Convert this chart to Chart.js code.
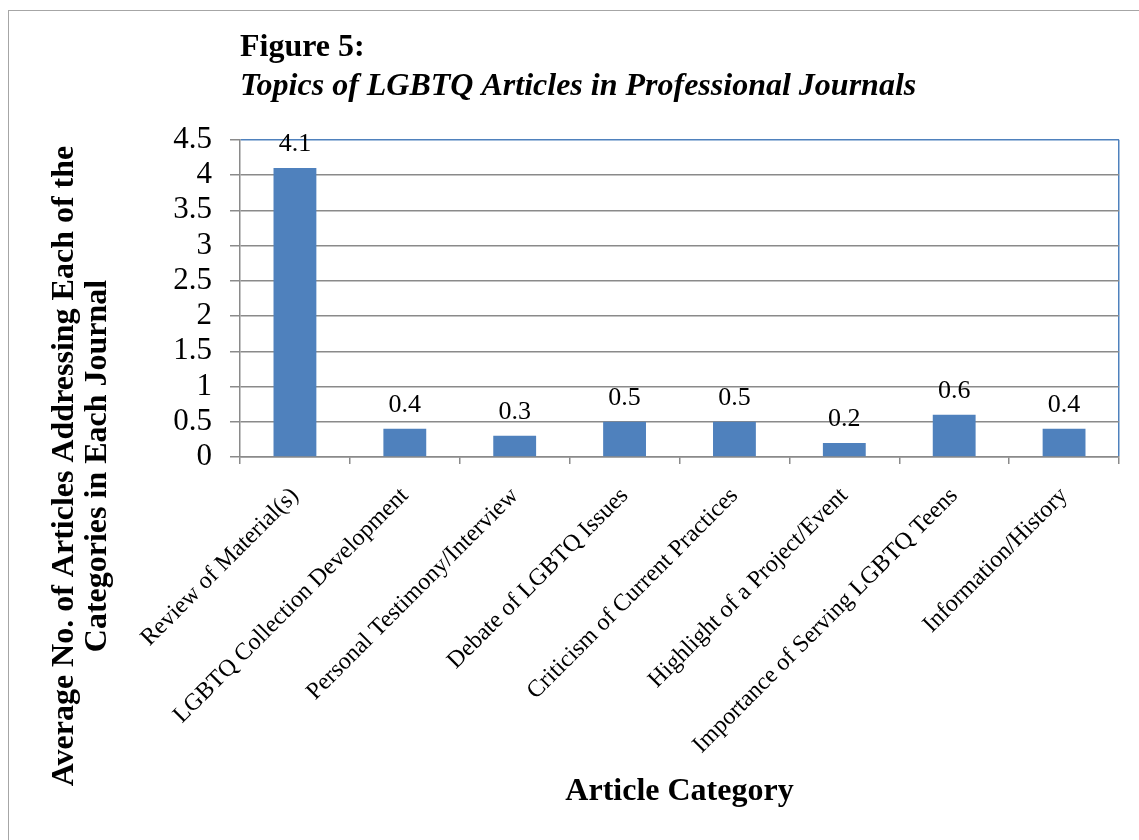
<!DOCTYPE html>
<html>
<head>
<meta charset="utf-8">
<script src="https://cdn.jsdelivr.net/npm/chart.js@4.4.1/dist/chart.umd.min.js"></script>
<style>
  html, body { margin: 0; padding: 0; background: #ffffff; overflow: hidden; }
  #frame { position: absolute; left: 8px; top: 10px; width: 1200px; height: 900px; border: 1px solid #a6a6a6; }
  #c { position: absolute; left: 0; top: 0; }
</style>
</head>
<body>
<div id="frame"></div>
<canvas id="c" width="1139" height="840"></canvas>
<script>
// ---- data ----
const categories = [
  "Review of Material(s)",
  "LGBTQ Collection Development",
  "Personal Testimony/Interview",
  "Debate of LGBTQ Issues",
  "Criticism of Current Practices",
  "Highlight of a Project/Event",
  "Importance of Serving LGBTQ Teens",
  "Information/History"
];
const averages = [4.1, 0.4, 0.3, 0.5, 0.5, 0.2, 0.6, 0.4];
const yTickValues = [0, 0.5, 1, 1.5, 2, 2.5, 3, 3.5, 4, 4.5];
const yTickLabels = ["0", "0.5", "1", "1.5", "2", "2.5", "3", "3.5", "4", "4.5"];
const titleLine = "Figure 5:";
const subtitleLine = "Topics of LGBTQ Articles in Professional Journals";
const yTitleLines = ["Average No. of Articles Addressing Each of the", "Categories in Each Journal"];
const xTitle = "Article Category";

const SERIF = '"Liberation Serif", "Times New Roman", Times, serif';
const BLUE = '#4f81bd';
const GRID = '#8a8a8a';

const valueLabels = {
  id: 'valueLabels',
  afterDatasetsDraw(chart) {
    const ctx = chart.ctx;
    const meta = chart.getDatasetMeta(0);
    ctx.save();
    ctx.font = '26px ' + SERIF;
    ctx.fillStyle = '#000';
    ctx.textAlign = 'center';
    ctx.textBaseline = 'alphabetic';
    meta.data.forEach((bar, i) => {
      ctx.fillText(String(chart.data.datasets[0].data[i]), bar.x, bar.y - 17);
    });
    ctx.restore();
  }
};

const yTitle = {
  id: 'yTitle',
  afterDraw(chart) {
    const ctx = chart.ctx;
    ctx.save();
    ctx.font = 'bold 32px ' + SERIF;
    ctx.fillStyle = '#000';
    ctx.textAlign = 'center';
    ctx.textBaseline = 'alphabetic';
    const cy = 466;
    const baselines = [73, 106];
    yTitleLines.forEach((line, i) => {
      ctx.save();
      ctx.translate(baselines[i], cy);
      ctx.rotate(-Math.PI / 2);
      ctx.fillText(line, 0, 0);
      ctx.restore();
    });
    ctx.restore();
  }
};

new Chart(document.getElementById('c'), {
  type: 'bar',
  data: {
    labels: categories,
    datasets: [{
      data: averages,
      backgroundColor: BLUE,
      borderWidth: 0,
      barPercentage: 0.39,
      categoryPercentage: 1.0
    }]
  },
  options: {
    responsive: false,
    devicePixelRatio: 1,
    animation: false,
    layout: { padding: { top: 0, left: 0, right: 20, bottom: 0 } },
    plugins: {
      legend: { display: false },
      tooltip: { enabled: false },
      title: {
        display: true,
        text: titleLine,
        align: 'start',
        fullSize: false,
        color: '#000',
        font: { family: SERIF, size: 32, weight: 'bold', lineHeight: 1.2 },
        padding: { top: 29, bottom: 0 }
      },
      subtitle: {
        display: true,
        text: subtitleLine,
        align: 'start',
        fullSize: false,
        color: '#000',
        font: { family: SERIF, size: 32, weight: 'bold', style: 'italic', lineHeight: 1.2 },
        padding: { top: 0, bottom: 34 }
      }
    },
    scales: {
      x: {
        offset: true,
        afterFit(scale) { scale.height = 383; },
        grid: {
          offset: true,
          drawOnChartArea: true,
          drawTicks: true,
          tickLength: 7,
          lineWidth: 1.5,
          color: (c) => (c.type === 'tick' ? 'rgba(0,0,0,0)' : BLUE),
          tickColor: GRID,
          tickWidth: 1.5
        },
        border: { display: true, color: GRID, width: 1.5 },
        ticks: {
          autoSkip: false,
          minRotation: 45,
          maxRotation: 45,
          padding: 18,
          color: '#000',
          font: { family: SERIF, size: 24 }
        },
        title: {
          display: true,
          text: xTitle,
          color: '#000',
          font: { family: SERIF, size: 32, weight: 'bold', lineHeight: 1.2 },
          padding: { top: 0, bottom: 29 }
        }
      },
      y: {
        min: 0,
        max: 4.5,
        afterFit(scale) { scale.width = 240; },
        afterBuildTicks(scale) { scale.ticks = yTickValues.map(v => ({ value: v })); },
        grid: {
          drawTicks: true,
          tickLength: 10,
          lineWidth: 1.5,
          color: (c) => (c.tick && c.tick.value === 4.5 ? BLUE : GRID),
          tickColor: GRID,
          tickWidth: 1.5
        },
        border: { display: true, color: GRID, width: 1.5 },
        ticks: {
          autoSkip: false,
          padding: 18,
          color: '#000',
          font: { family: SERIF, size: 31 },
          callback: (value) => yTickLabels[yTickValues.indexOf(value)]
        }
      }
    }
  },
  plugins: [valueLabels, yTitle]
});
</script>
</body>
</html>
